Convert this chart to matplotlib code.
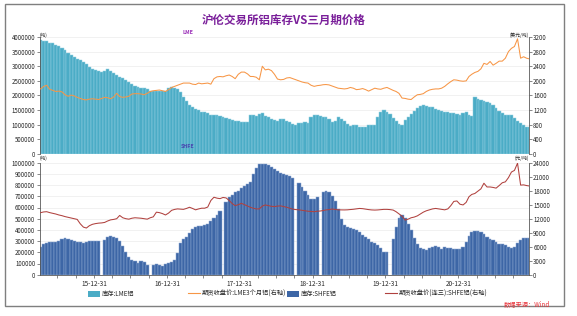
import numpy as np
import pandas as pd
import matplotlib
matplotlib.use("Agg")
import matplotlib.pyplot as plt
import matplotlib.dates as mdates
from matplotlib.ticker import FixedLocator, StrMethodFormatter, MultipleLocator
from matplotlib.patches import Patch, Rectangle
from matplotlib.lines import Line2D

plt.rcParams['font.family'] = ['Noto Sans CJK SC', 'DejaVu Sans']

# half-month dates, Apr 2015 .. Dec 2021
dates = pd.date_range('2015-04-01', '2021-12-16', freq='SMS')

# LME stocks, thousand tonnes
lme_stock = (
    [3890, 3870, 3850, 3810, 3780, 3730, 3680, 3620, 3540, 3460, 3380, 3310, 3250, 3200, 3130, 3060, 2980, 2920]
    + [2880, 2850, 2800, 2840, 2900, 2840, 2780, 2700, 2640, 2590, 2530, 2460, 2390, 2330, 2290, 2260, 2240, 2220, 2170, 2140, 2150, 2160, 2150, 2140]
    + [2250, 2300, 2270, 2220, 2120, 1950, 1800, 1680, 1600, 1540, 1490, 1450, 1420, 1390, 1340, 1330, 1320, 1290, 1260, 1240, 1210, 1160, 1130, 1120]
    + [1110, 1110, 1110, 1330, 1320, 1290, 1360, 1390, 1300, 1250, 1190, 1150, 1120, 1200, 1210, 1140, 1090, 1020, 990, 1050, 1070, 1080, 1060, 1280]
    + [1320, 1320, 1300, 1280, 1250, 1180, 1080, 1120, 1250, 1190, 1130, 1040, 960, 990, 990, 940, 910, 930, 980, 980, 980, 1250, 1450, 1500]
    + [1430, 1360, 1230, 1130, 1040, 1000, 1150, 1280, 1380, 1480, 1570, 1630, 1660, 1650, 1620, 1590, 1550, 1510, 1470, 1440, 1420, 1410, 1390, 1360]
    + [1340, 1400, 1420, 1320, 1310, 1950, 1890, 1850, 1820, 1790, 1730, 1660, 1570, 1480, 1400, 1340, 1320, 1320, 1230, 1130, 1070, 990, 930, 910]
)

# LME 3M close, USD/t
lme_price = (
    [1780, 1850, 1880, 1770, 1740, 1710, 1720, 1700, 1620, 1580, 1610, 1590, 1550, 1520, 1490, 1480, 1500, 1510]
    + [1500, 1490, 1520, 1550, 1540, 1510, 1560, 1660, 1570, 1550, 1560, 1580, 1640, 1650, 1650, 1640, 1620, 1660, 1710, 1730, 1740, 1750, 1730, 1710]
    + [1760, 1820, 1850, 1880, 1910, 1940, 1940, 1940, 1910, 1900, 1940, 1920, 1930, 1940, 1910, 2060, 2110, 2120, 2110, 2140, 2160, 2120, 2060, 2180]
    + [2240, 2240, 2190, 2120, 2120, 2100, 2030, 2400, 2300, 2320, 2280, 2180, 2050, 2030, 2040, 2080, 2090, 2060, 2030, 2000, 1970, 1950, 1940, 1880]
    + [1850, 1870, 1880, 1895, 1900, 1890, 1860, 1830, 1800, 1790, 1780, 1790, 1820, 1800, 1760, 1770, 1790, 1760, 1720, 1760, 1800, 1780, 1770, 1800]
    + [1820, 1780, 1740, 1710, 1660, 1530, 1520, 1500, 1490, 1560, 1620, 1630, 1650, 1710, 1750, 1770, 1780, 1780, 1800, 1850, 1920, 1980, 2030, 2020]
    + [2000, 1990, 2000, 2120, 2180, 2230, 2260, 2330, 2480, 2450, 2530, 2430, 2480, 2540, 2540, 2620, 2800, 2890, 2940, 3150, 2620, 2660, 2620, 2600]
)

nan = np.nan
# SHFE stocks, thousand tonnes (holiday weeks missing)
shfe_stock = (
    [250, 272, 285, 290, 290, 290, 305, 318, 324, 322, 308, 300, 295, 290, 286, 292, 304, 304]
    + [304, 304, nan, 310, 340, 342, 334, 325, 305, 260, 205, 158, 130, 118, 108, 125, 110, 88, nan, 88, 94, 85, 80, 95]
    + [105, 114, 135, 190, 280, 320, 335, 370, 405, 425, 432, 435, 445, 455, 478, 505, 535, 565, nan, 648, 690, 715, 735, 750]
    + [772, 795, 812, 828, 900, 955, 985, 990, 990, 980, 960, 945, 925, 912, 900, 891, 880, 862, nan, 815, 785, 745, 710, 675]
    + [672, 690, nan, 742, 745, 742, 700, 660, 590, 500, 440, 428, 420, 410, 398, 380, 352, 335, 318, 295, 280, 262, 240, 205]
    + [200, nan, 320, 430, 510, 532, 505, 455, 400, 330, 270, 235, 227, 225, 235, 250, 252, 245, 228, 245, 240, 236, 232, 228]
    + [228, 245, 290, 350, 378, 388, 392, 380, 360, 338, 322, 314, 295, 276, 270, 264, 250, 236, 250, 282, 310, 330, 332, 325]
)

# SHFE 3rd-month close, CNY/t
shfe_price = (
    [13300, 13450, 13500, 13300, 13150, 13000, 12800, 12650, 12450, 12300, 12150, 12000, 11850, 10900, 10200, 10000, 10500, 10800]
    + [10950, 11050, 11100, 11200, 11500, 11750, 11850, 12000, 12700, 12200, 12000, 11900, 12100, 12200, 12150, 12100, 12000, 11900, 12200, 12400, 13400, 13300, 13100, 12800]
    + [13200, 13800, 14000, 14100, 14050, 14000, 14200, 14450, 14200, 13900, 14100, 14250, 14250, 14500, 15900, 16600, 16400, 16300, 16550, 16450, 15900, 15250, 14800, 15000]
    + [15300, 15000, 14700, 14450, 14250, 14100, 14100, 14700, 14950, 14800, 14650, 14600, 14700, 14750, 14600, 14450, 14250, 14050, 13950, 13900, 13800, 13700, 13600, 13550]
    + [13500, 13600, 13650, 13750, 13880, 13950, 14080, 14000, 13900, 13880, 13880, 13900, 13950, 14020, 14100, 14200, 14150, 14050, 13950, 13880, 13850, 13880, 13950, 14000]
    + [14000, 13950, 13850, 13500, 13050, 12550, 11700, 11900, 12200, 12350, 12600, 13000, 13400, 13700, 13900, 14100, 14200, 14100, 14000, 13900, 14100, 14800, 15700, 15800]
    + [15100, 14950, 15500, 16700, 17200, 17400, 17900, 18400, 19600, 18800, 18800, 18700, 18550, 19100, 19700, 19900, 20800, 22000, 22350, 23900, 19200, 19250, 19100, 19000]
)

year_ticks = ['2015-12-31', '2016-12-31', '2017-12-31', '2018-12-31', '2019-12-31', '2020-12-31']

lme_stock = np.array(lme_stock) * 1000
shfe_stock = np.array(shfe_stock) * 1000
gaps = (dates[1:] - dates[:-1]).days.values
widths = np.append(gaps, 16).astype(float)
mid = dates + pd.to_timedelta(widths / 2, unit='D')

c_lme = '#4bacc6'
c_shfe = '#3d66a6'
c_lme_px = '#f79646'
c_shfe_px = '#b0413e'
axcol = '#595959'
txtcol = '#262626'

fig = plt.figure(figsize=(5.77, 3.16), dpi=100)
L, W = 39.5 / 577, 489.5 / 577
ax1 = fig.add_axes([L, 1 - 154 / 316, W, 117 / 316])
ax2 = fig.add_axes([L, 1 - 274.7 / 316, W, 112 / 316])

ax1.bar(dates, lme_stock, width=widths, align='edge', color=c_lme,
        edgecolor='#93d0e2', linewidth=0.35)
ax2.bar(dates, shfe_stock, width=widths, align='edge', color=c_shfe,
        edgecolor='#8ea8d2', linewidth=0.35)

t1 = ax1.twinx()
t1.plot(mid, lme_price, color=c_lme_px, lw=0.75)
t2 = ax2.twinx()
t2.plot(mid, shfe_price, color=c_shfe_px, lw=0.75)

xmin, xmax = pd.Timestamp('2015-04-02'), pd.Timestamp('2021-12-20')
for ax in (ax1, ax2, t1, t2):
    ax.set_xlim(xmin, xmax)
    for s in ax.spines.values():
        s.set_color(axcol)
        s.set_linewidth(0.6)
    ax.spines['top'].set_visible(False)
    ax.tick_params(length=2, width=0.5, color=axcol, labelsize=4.4,
                   labelcolor=txtcol, pad=1)

ax1.set_ylim(0, 4000000)
ax1.yaxis.set_major_locator(MultipleLocator(500000))
t1.set_ylim(0, 3200)
t1.yaxis.set_major_locator(MultipleLocator(400))
ax2.set_ylim(0, 1000000)
ax2.yaxis.set_major_locator(MultipleLocator(100000))
t2.set_ylim(0, 24000)
t2.yaxis.set_major_locator(MultipleLocator(3000))

for ax in (ax1, ax2):
    ax.yaxis.set_major_formatter(StrMethodFormatter('{x:.0f}'))
    ax.spines['right'].set_visible(False)
    ax.yaxis.grid(True, color='#ececec', lw=0.5)
    ax.set_axisbelow(True)
for t in (t1, t2):
    t.spines['left'].set_visible(False)
    t.spines['bottom'].set_visible(False)
    t.yaxis.set_major_formatter(StrMethodFormatter('{x:.0f}'))

ax1.spines['bottom'].set_visible(False)
for ax in (ax1, t1, t2):
    ax.tick_params(axis='x', bottom=False, labelbottom=False, which='both')

ax2.xaxis.set_major_locator(FixedLocator(mdates.date2num(pd.to_datetime(year_ticks))))
ax2.xaxis.set_major_formatter(mdates.DateFormatter('%y-%m-%d'))
ax2.xaxis.set_minor_locator(mdates.MonthLocator(bymonth=[4, 7, 10]))
ax2.tick_params(axis='x', which='both', length=2, width=0.5, color=axcol, pad=2,
                labelsize=4.6)

# unit labels
fs_u = 3.4
fig.text(40 / 577, 1 - 35 / 316, '(吨)', fontsize=fs_u, ha='left', va='center', color=txtcol)
fig.text(529 / 577, 1 - 35 / 316, '(美元/吨)', fontsize=fs_u, ha='right', va='center', color=txtcol)
fig.text(40 / 577, 1 - 158 / 316, '(吨)', fontsize=fs_u, ha='left', va='center', color=txtcol)
fig.text(529 / 577, 1 - 158 / 316, '(元/吨)', fontsize=fs_u, ha='right', va='center', color=txtcol)

fig.text(188 / 577, 1 - 33 / 316, 'LME', fontsize=3.8, ha='center', va='center',
         color='#9b30b8', weight='bold')
fig.text(188 / 577, 1 - 147 / 316, 'SHFE', fontsize=3.8, ha='center', va='center',
         color='#4a45b0', weight='bold')

fig.text(284 / 577, 1 - 20 / 316, '沪伦交易所铝库存VS三月期价格', fontsize=8.3,
         ha='center', va='center', color='#7a1f9a', weight='bold')

# legend, four fixed slots
entries = [
    (Patch(facecolor=c_lme), '库存:LME铝', 88),
    (Line2D([], [], color=c_lme_px, lw=0.8), '期货收盘价:LME3个月铝(右轴)', 188),
    (Patch(facecolor=c_shfe), '库存:SHFE铝', 287),
    (Line2D([], [], color=c_shfe_px, lw=0.8), '期货收盘价(连三):SHFE铝(右轴)', 385),
]
for h, lab, xp in entries:
    leg = fig.legend(handles=[h], labels=[lab], loc='center left',
                     bbox_to_anchor=(xp / 577, 1 - 294 / 316), frameon=False,
                     fontsize=4.5, handlelength=1.9, handleheight=1.1,
                     handletextpad=0.3, borderpad=0, borderaxespad=0)
    for tx in leg.get_texts():
        tx.set_color(txtcol)

fig.text(550 / 577, 1 - 304 / 316, '数据来源：Wind', fontsize=4.5, ha='right',
         va='center', color='#e8333a', style='italic')

fig.add_artist(Rectangle((5 / 577, 1 - 306 / 316), 559 / 577, 302 / 316,
                         transform=fig.transFigure, fill=False,
                         edgecolor='#7f7f7f', lw=1.0))

fig.savefig('out.png', dpi=100)
